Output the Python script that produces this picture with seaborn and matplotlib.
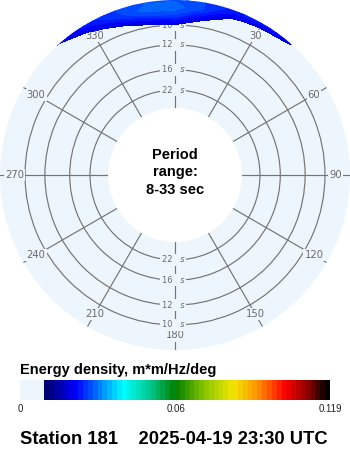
import numpy as np
import matplotlib
matplotlib.use("Agg")
import matplotlib.pyplot as plt
import seaborn as sns
from matplotlib.colors import LinearSegmentedColormap, Normalize
from matplotlib.cm import ScalarMappable

# ---------------- data ----------------
directions_deg = [-50, -40, -30, -20, -10, 0, 10, 20, 30, 40, 50]   # 310 .. 50 deg
frequencies = [0.095, 0.100, 0.105, 0.110, 0.115, 0.120, 0.125]      # Hz
energy = [
    [0.000, 0.000, 0.000, 0.006, 0.010, 0.012, 0.009, 0.004, 0.000, 0.000, 0.000],
    [0.000, 0.000, 0.004, 0.010, 0.016, 0.0175, 0.014, 0.008, 0.003, 0.000, 0.000],
    [0.000, 0.004, 0.010, 0.016, 0.021, 0.023, 0.0175, 0.012, 0.007, 0.003, 0.000],
    [0.000, 0.008, 0.015, 0.021, 0.026, 0.027, 0.022, 0.015, 0.011, 0.006, 0.000],
    [0.002, 0.012, 0.0195, 0.025, 0.029, 0.029, 0.026, 0.019, 0.016, 0.011, 0.003],
    [0.009, 0.018, 0.023, 0.026, 0.028, 0.028, 0.026, 0.023, 0.022, 0.019, 0.009],
    [0.016, 0.022, 0.025, 0.026, 0.027, 0.027, 0.026, 0.024, 0.023, 0.022, 0.013],
]
period_rings = [22, 16, 12, 10]           # s
period_range = (8, 33)
direction_labels = list(range(0, 360, 30))
cbar_ticks = [0, 0.06, 0.119]
cbar_ticklabels = ["0", "0.06", "0.119"]
vmax = 0.119
threshold = 0.018
title_cbar = "Energy density, m*m/Hz/deg"
footer = "Station 181    2025-04-19 23:30 UTC"

# ---------------- style ----------------
sns.set_theme(style="white")
plt.rcParams["font.family"] = ["Liberation Sans", "DejaVu Sans"]

LIGHT = "#eef6fd"
GRID = "#747474"
LABEL = "#6a6a6a"

cmap = LinearSegmentedColormap.from_list("cdip", [
    (0.0, LIGHT), (0.068, LIGHT), (0.0681, (0, 0, 0.38)),
    (0.177, (0, 0, 1)), (0.33, (0, 1, 1)), (0.42, (0, 0.78, 0.55)),
    (0.5, (0, 0.5, 0)), (0.6, (0.55, 0.78, 0)), (0.69, (0.95, 0.9, 0)),
    (0.77, (1, 0.58, 0)), (0.86, (1, 0, 0)), (0.935, (0.55, 0, 0)),
    (1.0, (0, 0, 0))], N=64)
norm = Normalize(0, vmax)

fig = plt.figure(figsize=(3.5, 4.5), dpi=100, facecolor="white")
ax = fig.add_axes([0, 100 / 450, 1, 350 / 450], projection="polar")
ax.set_facecolor(LIGHT)
ax.set_theta_zero_location("N")
ax.set_theta_direction(-1)
f_out = 0.121
ax.set_ylim(1 / period_range[1], f_out)
ax.set_rorigin(-0.02585)
for sp in ax.spines.values():
    sp.set_edgecolor("none")
    sp.set_linewidth(0)
    sp.set_visible(False)

ax.set_axisbelow(True)
ax.set_xticks(np.deg2rad(direction_labels))
ax.set_xticklabels([])
ax.set_yticks([1 / p for p in period_rings])
ax.set_yticklabels([])
ax.grid(True, color=GRID, lw=0.85)
ax.tick_params(length=0, pad=0)

# energy blob
th = np.deg2rad(directions_deg)
T, F = np.meshgrid(th, frequencies)
Z = np.array(energy)
levels = np.arange(threshold, vmax + 0.001, 0.001)
ax.contourf(T, F, Z, levels=levels, cmap=cmap, norm=norm, zorder=1, antialiased=False)

# direction labels
r_lab = 0.1088
for d in direction_labels:
    ax.text(np.deg2rad(d), r_lab, str(d), ha="center", va="center", fontsize=7.2,
            color=LABEL, family="DejaVu Sans",
            bbox=dict(facecolor=LIGHT, edgecolor="none", pad=0.8), zorder=0.8)
# period ring labels
for p in period_rings:
    for ang in (0, 180):
        ax.text(np.deg2rad(ang), 1 / p, f"{p} ", ha="right", va="center", fontsize=6,
                color=LABEL, family="DejaVu Sans",
                bbox=dict(facecolor=LIGHT, edgecolor="none", pad=1.2), zorder=0.8)
        ax.text(np.deg2rad(ang), 1 / p, "  s", ha="left", va="center", fontsize=6,
                color=LABEL, family="DejaVu Sans", style="italic",
                bbox=dict(facecolor=LIGHT, edgecolor="none", pad=1.2), zorder=0.8)

# center text
for txt, ypx in (("Period", 155), ("range:", 172), (f"{period_range[0]}-{period_range[1]} sec", 190)):
    ax.text(0.5, 1 - ypx / 350, txt, transform=ax.transAxes, ha="center", va="center",
            fontsize=10.5, fontweight="bold", color="black")

# colorbar
cax = fig.add_axes([20 / 350, 50 / 450, 310 / 350, 20 / 450])
cb = fig.colorbar(ScalarMappable(norm=norm, cmap=cmap), cax=cax, orientation="horizontal",
                  ticks=cbar_ticks)
cb.ax.set_xticklabels(cbar_ticklabels)
cb.outline.set_visible(False)
cb.ax.tick_params(length=0, pad=3, labelsize=7, labelcolor="#222222")

fig.text(20 / 350, 1 - 370 / 450, title_cbar, ha="left", va="center", fontsize=10.5,
         fontweight="bold", color="black")
fig.text(20 / 350, 1 - 440 / 450, footer, ha="left", va="center", fontsize=13.2,
         fontweight="bold", color="black")

fig.savefig("out.png", dpi=100, facecolor="white")
